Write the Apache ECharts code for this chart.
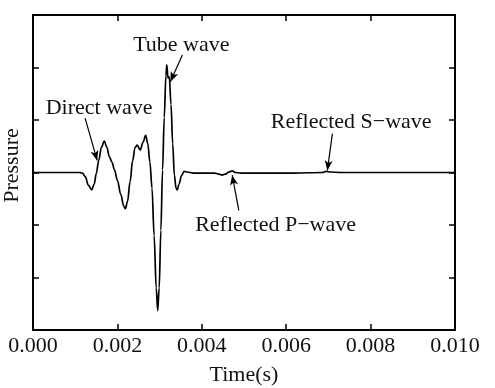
<!DOCTYPE html>
<html>
<head>
<meta charset="utf-8">
<script src="https://cdn.jsdelivr.net/npm/echarts@6/dist/echarts.min.js"></script>
<style>
html,body{margin:0;padding:0;background:#fff;}
#c{width:495px;height:388px;}
</style>
</head>
<body>
<div id="c"></div>
<script>
// time in ms (converted to seconds below), pressure in arbitrary units
var timeMs = [0, 1.10, 1.17, 1.24, 1.31, 1.39, 1.45, 1.50, 1.56, 1.62, 1.69, 1.75, 1.81, 1.87, 1.93,
  2.00, 2.08, 2.15, 2.19, 2.24, 2.30, 2.36, 2.42, 2.47, 2.54, 2.61, 2.67, 2.72, 2.77, 2.82, 2.87,
  2.92, 2.955, 2.99, 3.03, 3.07, 3.11, 3.15, 3.17, 3.20, 3.23, 3.27, 3.31, 3.35, 3.39, 3.42, 3.46,
  3.52, 3.58, 3.65, 3.80, 4.00, 4.30, 4.40, 4.48, 4.56, 4.64, 4.72, 4.80, 4.92, 5.50, 6.20, 6.85,
  6.95, 7.05, 7.30, 8.50, 10.0];
var pressure = [0, 0, -0.01, -0.08, -0.24, -0.33, -0.22, -0.02, 0.24, 0.48, 0.60, 0.48, 0.30, 0.20, 0.05,
  -0.15, -0.42, -0.64, -0.69, -0.55, -0.18, 0.22, 0.48, 0.52, 0.43, 0.58, 0.71, 0.55, 0.20, -0.30, -1.20,
  -2.20, -2.63, -2.20, -1.10, 0.05, 1.05, 1.85, 2.05, 1.80, 1.82, 1.30, 0.55, -0.05, -0.30, -0.33, -0.22,
  -0.06, 0.02, 0.01, -0.01, -0.01, -0.01, -0.03, -0.05, -0.03, 0.01, 0.03, 0.00, -0.01, -0.01, -0.01, 0.0,
  0.02, 0.01, 0.0, 0.0, 0.0];
var xTicks = [0.000, 0.002, 0.004, 0.006, 0.008, 0.010];

// annotations: label text, label centre (ms, value), arrow start (ms, value), arrow end (ms, value)
var annLabels = ['Direct wave', 'Tube wave', 'Reflected S\u2212wave', 'Reflected P\u2212wave'];
var annTextPos = [[1.568, 1.23], [3.515, 2.43], [7.54, 0.965], [5.748, -1.01]];
var annArrowFrom = [[1.235, 1.035], [3.54, 2.24], [7.095, 0.74], [4.877, -0.72]];
var annArrowTo = [[1.52, 0.23], [3.255, 1.73], [6.975, 0.04], [4.72, -0.05]];

var seriesData = timeMs.map(function (t, i) { return [t / 1000, pressure[i]]; });
var FONT = 'Liberation Serif';
var txt = '#111';

var chart = echarts.init(document.getElementById('c'), null, {renderer: 'canvas'});
var axisLine = {show: true, onZero: false, lineStyle: {color: '#000', width: 2}};
var tick = {show: true, inside: true, length: 6, lineStyle: {color: '#000', width: 1.5}};

chart.setOption({
  backgroundColor: '#fff',
  animation: false,
  grid: {left: 33, right: 40, top: 15, bottom: 58, containLabel: false, outerBoundsMode: 'none'},
  xAxis: [{
    type: 'value', min: 0, max: 0.010, interval: 0.002,
    axisLine: axisLine, axisTick: tick, splitLine: {show: false},
    axisLabel: {margin: 5, color: txt, fontFamily: FONT, fontSize: 22,
      formatter: function (v) { return v.toFixed(3); }},
    name: 'Time(s)', nameLocation: 'middle', nameGap: 34,
    nameTextStyle: {color: txt, fontFamily: FONT, fontSize: 22}
  }, {
    type: 'value', position: 'top', min: 0, max: 0.010, interval: 0.002,
    axisLine: axisLine, axisTick: tick, splitLine: {show: false}, axisLabel: {show: false}
  }],
  yAxis: [{
    type: 'value', min: -3, max: 3, interval: 1,
    axisLine: axisLine, axisTick: tick, splitLine: {show: false}, axisLabel: {show: false},
    name: 'Pressure', nameLocation: 'middle', nameGap: 10,
    nameTextStyle: {color: txt, fontFamily: FONT, fontSize: 22, padding: [0, 0, 0, 14]}
  }, {
    type: 'value', position: 'right', min: -3, max: 3, interval: 1,
    axisLine: axisLine, axisTick: tick, splitLine: {show: false}, axisLabel: {show: false}
  }],
  series: [{
    type: 'line',
    data: seriesData,
    showSymbol: false,
    smooth: 0.35,
    smoothMonotone: 'x',
    lineStyle: {color: '#000', width: 1.7},
    markLine: {
      silent: true,
      symbol: ['none', 'arrow'],
      symbolSize: [6, 10],
      label: {show: false},
      lineStyle: {color: '#000', width: 1.2, type: 'solid'},
      data: annArrowFrom.map(function (p, i) {
        return [{coord: [p[0] / 1000, p[1]]}, {coord: [annArrowTo[i][0] / 1000, annArrowTo[i][1]]}];
      })
    },
    markPoint: {
      silent: true,
      symbol: 'circle',
      symbolSize: 0,
      label: {show: true, position: 'inside', color: txt, fontFamily: FONT, fontSize: 22,
        formatter: function (p) { return p.name; }},
      data: annTextPos.map(function (p, i) {
        return {name: annLabels[i], coord: [p[0] / 1000, p[1]]};
      })
    }
  }]
});
</script>
</body>
</html>
